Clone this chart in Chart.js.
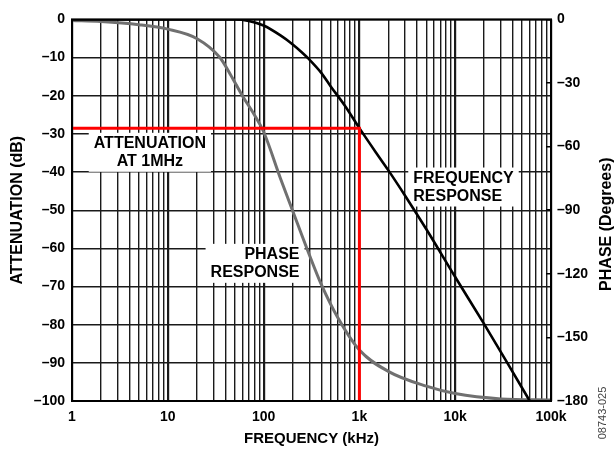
<!DOCTYPE html>
<html>
<head>
<meta charset="utf-8">
<script src="https://cdn.jsdelivr.net/npm/chart.js@4.4.1/dist/chart.umd.min.js"></script>
<style>
  html, body { margin: 0; padding: 0; background: #fff; }
  #wrap { width: 616px; height: 452px; position: relative; }
</style>
</head>
<body>
<div id="wrap"><canvas id="c"></canvas></div>
<script>
// frequency response (kHz -> dB)
const attenFreq = [1, 10, 30, 50, 70, 100, 150, 200, 250, 300, 400, 500, 700, 1000, 1500, 2000, 3000, 5000, 10000, 20000, 35000, 60000];
const attenDb   = [0, 0, 0, 0, -0.4, -1.6, -4.2, -6.5, -8.6, -10.5, -14, -17.5, -22.5, -28.5, -35, -39.5, -46.2, -55, -67.5, -79.8, -90, -100];

// phase response (kHz -> degrees)
const phaseFreq = [1, 2, 5, 10, 20, 35, 45, 60, 80, 100, 150, 200, 300, 400, 600, 1000, 2000, 5000, 10000, 30000, 100000];
const phaseDeg  = [-0.5, -1, -2.5, -4.6, -9, -18, -26, -36, -45, -53, -75, -90, -111, -125, -141, -156, -166, -173, -176.5, -179, -179.5];

// red marker: attenuation at 1 MHz
const markerFreq = [1, 1000, 1000];
const markerDb   = [-28.5, -28.5, -100];

const xTickValues = [1, 10, 100, 1000, 10000, 100000];
const xTickLabels = ['1', '10', '100', '1k', '10k', '100k'];
const dbTicks = [0, -10, -20, -30, -40, -50, -60, -70, -80, -90, -100];
const degTicks = [0, -30, -60, -90, -120, -150, -180];

const notes = [
  { x: 6.5, y: -32.6, lines: ['ATTENUATION', 'AT 1MHz'], align: 'center' },
  { x: 3650, y: -41.7, lines: ['FREQUENCY', 'RESPONSE'], align: 'left' },
  { x: 237, y: -61.7, lines: ['PHASE', 'RESPONSE'], align: 'right' }
];

function pts(xs, ys) {
  return xs.map((x, i) => ({ x: x, y: ys[i] }));
}

function dash(v) {
  return v < 0 ? '\u2013' + Math.abs(v) : String(v);
}

const fam = 'Arial, "Liberation Sans", sans-serif';

const gridTicks = [];
for (let e = 0; e < 5; e++) {
  for (let s = 1; s < 10; s++) gridTicks.push(s * Math.pow(10, e));
}
gridTicks.push(100000);

const notesPlugin = {
  id: 'notes',
  beforeDatasetsDraw(chart) {
    const ctx = chart.ctx;
    const xs = chart.scales.x, ys = chart.scales.y;
    ctx.save();
    ctx.font = 'bold 16px ' + fam;
    ctx.textBaseline = 'middle';
    notes.forEach(n => {
      const px = xs.getPixelForValue(n.x);
      const py = ys.getPixelForValue(n.y);
      const w = Math.max(...n.lines.map(l => ctx.measureText(l).width));
      const lh = 18;
      let left = px;
      if (n.align === 'center') left = px - w / 2;
      if (n.align === 'right') left = px - w;
      ctx.fillStyle = '#fff';
      ctx.fillRect(left - 5, py - 11, w + 10, lh * n.lines.length + 3);
      ctx.fillStyle = '#000';
      ctx.textAlign = n.align;
      n.lines.forEach((l, i) => ctx.fillText(l, px, py + i * lh));
    });
    ctx.restore();
  },
  afterDraw(chart) {
    const ctx = chart.ctx;
    const a = chart.chartArea;
    ctx.save();
    ctx.strokeStyle = '#000';
    ctx.lineWidth = 2;
    ctx.strokeRect(a.left, a.top, a.right - a.left, a.bottom - a.top);
    ctx.textAlign = 'center';
    ctx.textBaseline = 'middle';
    // right axis title, reading bottom to top
    ctx.save();
    ctx.translate(607, (a.top + a.bottom) / 2 + 14);
    ctx.rotate(-Math.PI / 2);
    ctx.font = 'bold 16px ' + fam;
    ctx.fillStyle = '#000';
    ctx.fillText('PHASE (Degrees)', 0, 0);
    ctx.restore();
    ctx.translate(603, 413);
    ctx.rotate(-Math.PI / 2);
    ctx.font = '11px ' + fam;
    ctx.fillStyle = '#444';
    ctx.fillText('08743-025', 0, 0);
    ctx.restore();
  }
};

new Chart(document.getElementById('c'), {
  type: 'line',
  data: {
    datasets: [
      {
        label: 'Frequency response',
        data: pts(attenFreq, attenDb),
        yAxisID: 'y',
        borderColor: '#000',
        borderWidth: 2.6,
        pointRadius: 0,
        cubicInterpolationMode: 'monotone',
        order: 2
      },
      {
        label: 'Phase response',
        data: pts(phaseFreq, phaseDeg),
        yAxisID: 'y2',
        borderColor: '#707070',
        borderWidth: 3,
        pointRadius: 0,
        cubicInterpolationMode: 'monotone',
        order: 3
      },
      {
        label: 'Attenuation at 1MHz',
        data: pts(markerFreq, markerDb),
        yAxisID: 'y',
        borderColor: '#ff0000',
        borderWidth: 3,
        pointRadius: 0,
        tension: 0,
        order: 1
      }
    ]
  },
  options: {
    responsive: true,
    maintainAspectRatio: false,
    animation: false,
    layout: { padding: { top: 17, left: 0, right: 0, bottom: 0 } },
    plugins: { legend: { display: false }, tooltip: { enabled: false } },
    scales: {
      x: {
        type: 'logarithmic',
        min: 1,
        max: 100000,
        afterFit(s) { s.height = 51; },
        afterBuildTicks(s) { s.ticks = gridTicks.map(v => ({ value: v })); },
        border: { display: false },
        grid: {
          color: '#1a1a1a',
          drawTicks: false,
          lineWidth: c => (xTickValues.includes(c.tick.value) ? 2.2 : 1.4)
        },
        ticks: {
          autoSkip: false,
          maxRotation: 0,
          padding: 8,
          color: '#000',
          font: { family: fam, size: 14, weight: 'bold' },
          callback: v => {
            const i = xTickValues.indexOf(v);
            return i >= 0 ? xTickLabels[i] : '';
          }
        },
        title: {
          display: true,
          text: 'FREQUENCY (kHz)',
          color: '#000',
          font: { family: fam, size: 15, weight: 'bold' },
          padding: { top: 0, bottom: 4 }
        }
      },
      y: {
        position: 'left',
        min: -100,
        max: 0,
        afterFit(s) { s.width = 72; },
        afterBuildTicks(s) { s.ticks = dbTicks.map(v => ({ value: v })); },
        border: { display: false },
        grid: { color: '#1a1a1a', lineWidth: 1.4, drawTicks: false },
        ticks: {
          padding: 7,
          color: '#000',
          font: { family: fam, size: 14, weight: 'bold' },
          callback: v => dash(v)
        },
        title: {
          display: true,
          text: 'ATTENUATION (dB)',
          color: '#000',
          font: { family: fam, size: 16, weight: 'bold' },
          padding: { top: 8, bottom: 0 }
        }
      },
      y2: {
        position: 'right',
        min: -180,
        max: 0,
        afterFit(s) { s.width = 65; },
        afterBuildTicks(s) { s.ticks = degTicks.map(v => ({ value: v })); },
        border: { display: false },
        grid: { drawOnChartArea: false, drawTicks: true, tickLength: -5, color: '#000', lineWidth: 1.5 },
        ticks: {
          padding: 11,
          color: '#000',
          font: { family: fam, size: 14, weight: 'bold' },
          callback: v => dash(v)
        },
        title: { display: false }
      }
    }
  },
  plugins: [notesPlugin]
});
</script>
</body>
</html>
